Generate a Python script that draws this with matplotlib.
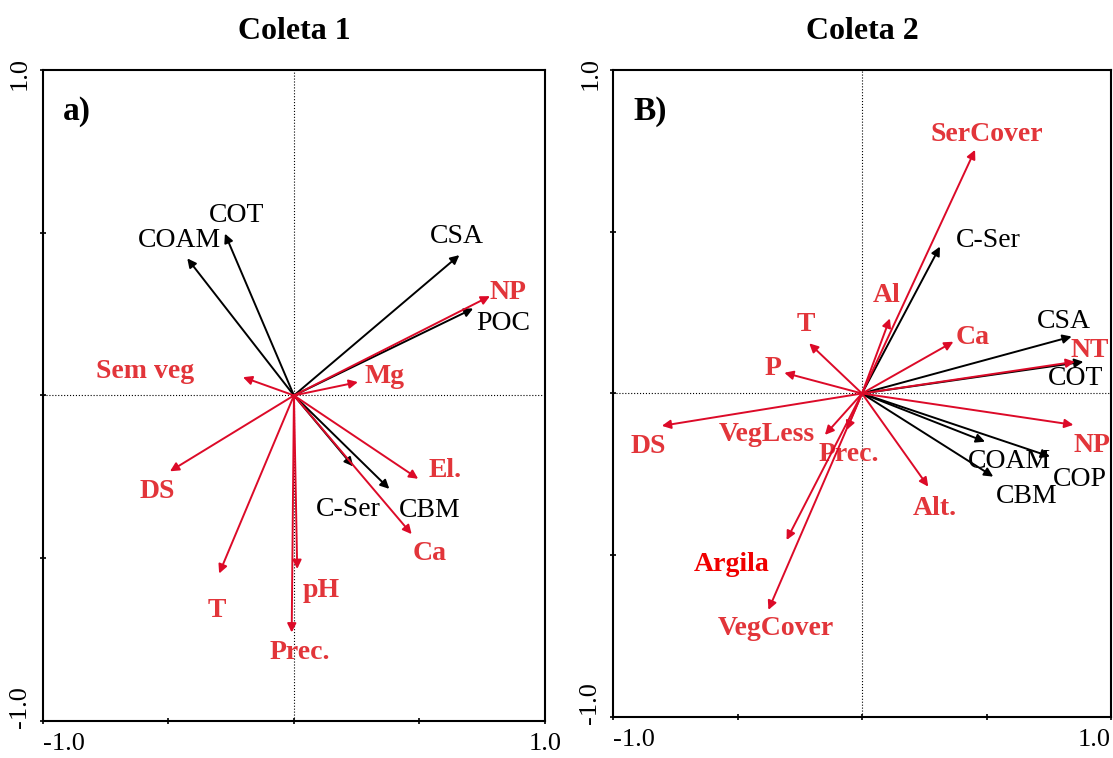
import matplotlib
matplotlib.use('Agg')

import matplotlib.pyplot as plt
from matplotlib.transforms import ScaledTranslation

plt.rcParams['font.family'] = ['Liberation Serif', 'DejaVu Serif']

RED = '#dc0a28'      # arrow colour
RED_TXT = '#e2353a'  # label colour

# Coleta 1 - response (black) and explanatory (red) vectors
c1_resp_names = ['COAM', 'COT', 'CSA', 'POC', 'C-Ser', 'CBM']
c1_resp_x = [-0.425, -0.275, 0.659, 0.714, 0.236, 0.380]
c1_resp_y = [0.421, 0.497, 0.431, 0.267, -0.218, -0.287]
c1_resp_lx = [-0.458, -0.228, 0.651, 0.833, 0.216, 0.542]
c1_resp_ly = [0.477, 0.554, 0.487, 0.222, -0.349, -0.354]

c1_env_names = ['NP', 'Sem veg', 'Mg', 'DS', 'T', 'pH', 'Prec.', 'El.', 'Ca']
c1_env_x = [0.781, -0.203, 0.255, -0.494, -0.298, 0.013, -0.009, 0.495, 0.469]
c1_env_y = [0.305, 0.056, 0.041, -0.233, -0.547, -0.533, -0.728, -0.256, -0.426]
c1_env_lx = [0.853, -0.594, 0.359, -0.546, -0.308, 0.110, 0.024, 0.602, 0.539]
c1_env_ly = [0.317, 0.074, 0.058, -0.295, -0.662, -0.600, -0.790, -0.229, -0.487]

# Coleta 2
c2_resp_names = ['C-Ser', 'CSA', 'COT', 'COAM', 'CBM', 'COP']
c2_resp_x = [0.313, 0.842, 0.889, 0.494, 0.527, 0.755]
c2_resp_y = [0.454, 0.176, 0.098, -0.149, -0.257, -0.195]
c2_resp_lx = [0.507, 0.809, 0.859, 0.594, 0.661, 0.876]
c2_resp_ly = [0.474, 0.222, 0.045, -0.211, -0.319, -0.267]

c2_env_names = ['SerCover', 'Al', 'T', 'P', 'Ca', 'NT', 'DS', 'VegLess',
                'Prec.', 'Argila', 'VegCover', 'Alt.', 'NP']
c2_env_x = [0.454, 0.112, -0.212, -0.312, 0.367, 0.855, -0.804, -0.149,
            -0.062, -0.303, -0.376, 0.266, 0.849]
c2_env_y = [0.753, 0.232, 0.155, 0.064, 0.160, 0.098, -0.100, -0.128,
            -0.113, -0.453, -0.669, -0.288, -0.097]
c2_env_lx = [0.501, 0.099, -0.226, -0.356, 0.444, 0.916, -0.858, -0.383,
             -0.055, -0.523, -0.345, 0.293, 0.924]
c2_env_ly = [0.799, 0.304, 0.212, 0.078, 0.174, 0.134, -0.164, -0.128,
             -0.190, -0.530, -0.726, -0.355, -0.162]


def draw_arrows(ax, names, xs, ys, lxs, lys, color, txt_color, weight):
    for name, x, y, lx, ly in zip(names, xs, ys, lxs, lys):
        ax.annotate('', xy=(x, y), xytext=(0, 0),
                    arrowprops=dict(arrowstyle='-|>', color=color, lw=1.4,
                                    mutation_scale=13, shrinkA=0, shrinkB=0))
        c = '#f00000' if name == 'Argila' else txt_color
        ax.text(lx, ly, name, color=c, fontsize=20, fontweight=weight,
                ha='center', va='center')


def setup(ax, title, tag):
    ax.set_xlim(-1, 1)
    ax.set_ylim(-1, 1)
    ax.axhline(0, color='black', lw=0.8, ls=':')
    ax.axvline(0, color='black', lw=0.8, ls=':')
    for s in ax.spines.values():
        s.set_linewidth(1.5)
    ax.spines['top'].set_visible(False)
    ax.spines['right'].set_visible(False)
    ax.plot([-1, 1], [1, 1], color='black', lw=1.5, clip_on=False)
    ax.plot([1, 1], [-1, 1], color='black', lw=1.5, clip_on=False)
    ax.set_xticks([-1, -0.5, 0, 0.5, 1])
    ax.set_xticklabels(['-1.0', '', '', '', '1.0'])
    ax.set_yticks([-1, -0.5, 0, 0.5, 1])
    ax.set_yticklabels(['-1.0', '', '', '', '1.0'], rotation=90, va='center')
    ax.tick_params(direction='inout', length=5, width=1.2, labelsize=19)
    ax.tick_params(axis='x', pad=6)
    ax.tick_params(axis='y', pad=6)
    xl = ax.get_xticklabels()
    xl[0].set_ha('left')
    yl = ax.get_yticklabels()
    dpi = fig.dpi_scale_trans
    yl[0].set_transform(yl[0].get_transform() + ScaledTranslation(0, 14 / 100, dpi))
    yl[-1].set_transform(yl[-1].get_transform() + ScaledTranslation(0, -4 / 100, dpi))
    ax.set_title(title, fontsize=23, fontweight='bold', pad=22)
    ax.text(0.04, 0.96, tag, transform=ax.transAxes, fontsize=24,
            fontweight='bold', ha='left', va='top')


fig = plt.figure(figsize=(11.13, 7.58), dpi=100)
ax1 = fig.add_axes([0.0386, 0.0488, 0.451, 0.859])
ax2 = fig.add_axes([0.5508, 0.0541, 0.4474, 0.8536])

setup(ax1, 'Coleta 1', 'a)')
draw_arrows(ax1, c1_resp_names, c1_resp_x, c1_resp_y, c1_resp_lx, c1_resp_ly,
            'black', 'black', 'normal')
draw_arrows(ax1, c1_env_names, c1_env_x, c1_env_y, c1_env_lx, c1_env_ly,
            RED, RED_TXT, 'bold')

setup(ax2, 'Coleta 2', 'B)')
ax2.get_xticklabels()[-1].set_ha('right')
draw_arrows(ax2, c2_resp_names, c2_resp_x, c2_resp_y, c2_resp_lx, c2_resp_ly,
            'black', 'black', 'normal')
draw_arrows(ax2, c2_env_names, c2_env_x, c2_env_y, c2_env_lx, c2_env_ly,
            RED, RED_TXT, 'bold')

fig.savefig('out.png', dpi=100)
